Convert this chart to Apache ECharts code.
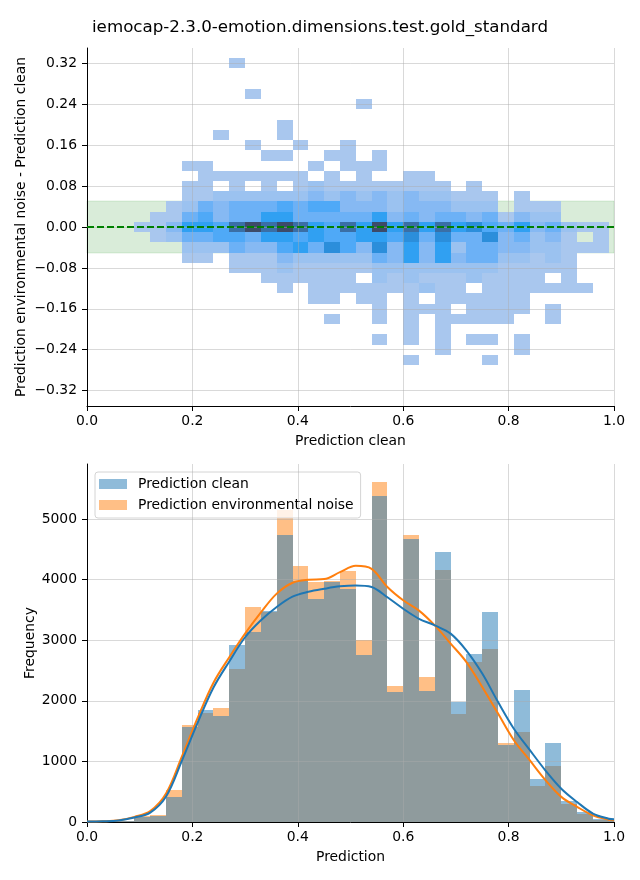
<!DOCTYPE html>
<html><head><meta charset="utf-8">
<script src="https://cdn.jsdelivr.net/npm/echarts@6/dist/echarts.min.js"></script>
<style>html,body{margin:0;padding:0;background:#fff}#chart{width:640px;height:880px}</style>
</head><body><div id="chart"></div>
<script>
// ---------------- data ----------------
const chartTitle = 'iemocap-2.3.0-emotion.dimensions.test.gold_standard';

// 2D histogram (top): x bins of 0.03 starting at bin index 3 (0.09), y rows centred on these values
const heatXBinWidth = 0.03;
const heatFirstXBin = 3;
const heatYBinHeight = 0.02;
const heatRowCenters = [0.32,0.30,0.28,0.26,0.24,0.22,0.20,0.18,0.16,0.14,0.12,0.10,0.08,0.06,0.04,0.02,0.00,
  -0.02,-0.04,-0.06,-0.08,-0.10,-0.12,-0.14,-0.16,-0.18,-0.20,-0.22,-0.24,-0.26];
// relative density level per cell (0 = empty), columns = x bins 3..32
const heatLevels = [
  [0,0,0,0,0,0,1,0,0,0, 0,0,0,0,0,0,0,0,0,0, 0,0,0,0,0,0,0,0,0,0],
  [0,0,0,0,0,0,0,0,0,0, 0,0,0,0,0,0,0,0,0,0, 0,0,0,0,0,0,0,0,0,0],
  [0,0,0,0,0,0,0,0,0,0, 0,0,0,0,0,0,0,0,0,0, 0,0,0,0,0,0,0,0,0,0],
  [0,0,0,0,0,0,0,1,0,0, 0,0,0,0,0,0,0,0,0,0, 0,0,0,0,0,0,0,0,0,0],
  [0,0,0,0,0,0,0,0,0,0, 0,0,0,0,1,0,0,0,0,0, 0,0,0,0,0,0,0,0,0,0],
  [0,0,0,0,0,0,0,0,0,0, 0,0,0,0,0,0,0,0,0,0, 0,0,0,0,0,0,0,0,0,0],
  [0,0,0,0,0,0,0,0,0,1, 0,0,0,0,0,0,0,0,0,0, 0,0,0,0,0,0,0,0,0,0],
  [0,0,0,0,0,1,0,0,0,1, 0,0,0,0,0,0,0,0,0,0, 0,0,0,0,0,0,0,0,0,0],
  [0,0,0,0,0,0,0,1,0,0, 1,0,0,1,0,0,0,0,0,0, 0,0,0,0,0,0,0,0,0,0],
  [0,0,0,0,0,0,0,0,1,1, 0,0,1,1,0,1,0,0,0,0, 0,0,0,0,0,0,0,0,0,0],
  [0,0,0,1,1,0,0,0,0,0, 0,1,0,1,1,1,0,0,0,0, 0,0,0,0,0,0,0,0,0,0],
  [0,0,0,0,1,1,1,1,1,1, 1,0,1,0,1,0,0,1,1,0, 0,0,0,0,0,0,0,0,0,0],
  [0,0,0,1,1,0,1,0,1,0, 1,2,1,1,1,1,1,1,1,1, 0,1,0,0,0,0,0,0,0,0],
  [0,0,0,1,1,2,2,2,2,2, 2,3,2,3,2,3,2,3,2,2, 1,1,1,0,1,0,0,0,0,0],
  [0,0,1,2,4,3,4,4,4,5, 4,5,5,3,3,3,2,3,3,3, 2,2,2,0,1,1,1,0,0,0],
  [0,1,1,4,5,3,4,4,6,6, 4,4,4,4,4,6,3,4,3,4, 4,3,4,1,3,2,2,0,0,0],
  [1,1,3,6,6,5,8,9,8,9, 8,6,5,8,6,9,6,8,6,8, 6,7,5,4,6,3,4,2,1,1],
  [0,1,2,4,4,5,5,4,6,6, 5,6,5,5,6,6,5,7,4,7, 4,4,7,3,4,2,3,1,0,1],
  [0,0,0,2,2,2,4,3,3,5, 6,4,7,5,3,7,3,6,3,6, 2,4,4,3,3,2,2,1,1,1],
  [0,0,0,1,1,0,1,1,1,3, 2,2,2,2,2,4,3,6,3,6, 3,4,4,2,2,1,2,1,0,0],
  [0,0,0,0,0,0,1,1,1,2, 1,1,1,1,1,2,2,2,2,2, 2,2,2,1,1,1,1,1,0,0],
  [0,0,0,0,0,0,0,0,1,1, 1,1,1,1,0,2,1,2,1,1, 1,2,1,1,1,1,0,1,0,0],
  [0,0,0,0,0,0,0,0,0,1, 0,1,1,1,1,1,1,1,2,1, 1,0,1,1,1,1,1,1,1,0],
  [0,0,0,0,0,0,0,0,0,0, 0,1,1,0,1,1,0,1,0,1, 1,1,1,1,1,0,0,0,0,0],
  [0,0,0,0,0,0,0,0,0,0, 0,0,0,0,0,1,0,1,1,1, 0,1,1,1,1,0,1,0,0,0],
  [0,0,0,0,0,0,0,0,0,0, 0,0,1,0,0,1,0,1,0,1, 1,1,1,1,0,0,1,0,0,0],
  [0,0,0,0,0,0,0,0,0,0, 0,0,0,0,0,0,0,1,0,1, 0,0,0,0,0,0,0,0,0,0],
  [0,0,0,0,0,0,0,0,0,0, 0,0,0,0,0,1,0,1,0,1, 0,1,1,0,1,0,0,0,0,0],
  [0,0,0,0,0,0,0,0,0,0, 0,0,0,0,0,0,0,0,0,1, 0,0,0,0,1,0,0,0,0,0],
  [0,0,0,0,0,0,0,0,0,0, 0,0,0,0,0,0,0,1,0,0, 0,0,1,0,0,0,0,0,0,0]
];
const toleranceBand = [-0.05, 0.05];
const referenceLineY = 0;
const topYTicks = [-0.32,-0.24,-0.16,-0.08,0,0.08,0.16,0.24,0.32];

// 1D histograms (bottom): bins of 0.03 from 0
const histBinWidth = 0.03;
const histClean = [10,15,20,85,105,405,1575,1845,1748,2915,3135,3490,4735,3980,3675,3955,3850,2750,5375,2145,4665,2158,4450,1980,2770,3460,1268,2177,706,1300,342,160,45,15];
const histNoise = [10,15,20,100,120,522,1605,1798,1878,2520,3545,3470,5150,4220,3960,3985,4140,3006,5620,2242,4730,2392,4155,1780,2640,2855,1300,1482,590,921,293,127,40,25];
const kdeX = [0,0.03,0.06,0.09,0.12,0.15,0.18,0.21,0.24,0.27,0.30,0.33,0.36,0.39,0.42,0.45,0.48,0.51,0.54,0.57,0.60,0.63,0.66,0.69,0.72,0.75,0.78,0.81,0.84,0.87,0.90,0.93,0.96,0.99,1.0];
const kdeClean = [8,12,25,75,155,420,1010,1640,2220,2650,3050,3330,3550,3720,3800,3850,3890,3905,3880,3710,3520,3355,3245,3110,2830,2450,1980,1540,1190,850,550,330,140,55,45];
const kdeNoise = [8,12,28,85,180,470,1080,1720,2300,2720,3110,3460,3770,3950,4000,4010,4125,4230,4180,3880,3660,3490,3245,2945,2640,2230,1790,1350,1020,690,415,250,110,38,30];
const bottomYTicks = [0,1000,2000,3000,4000,5000];
const seriesNames = ['Prediction clean', 'Prediction environmental noise'];

// ---------------- styling ----------------
const FONT = 'DejaVu Sans';
const heatPalette = ['#a9c7ee','#9bc2f0','#86b9f3','#6cb1f6','#4fa9f7','#30a0f2','#2b8edb','#3a6fa6','#3d4b69'];
const gridLine = 'rgba(170,170,170,0.45)';

function axisCommon(extra) {
  return Object.assign({
    type: 'value', z: 5,
    axisLine: {show: true, onZero: false, lineStyle: {color: '#000', width: 1}},
    axisTick: {show: true, length: 5, lineStyle: {color: '#000', width: 1}},
    axisLabel: {color: '#000', fontSize: 13.9, fontFamily: FONT, margin: 7},
    splitLine: {show: true, lineStyle: {color: gridLine, width: 1}},
    nameLocation: 'middle',
    nameMoveOverlap: false,
    nameTextStyle: {color: '#000', fontSize: 13.9, fontFamily: FONT}
  }, extra);
}

function rectFrom(api, x0, x1, y0, y1) {
  const p0 = api.coord([x0, y0]);
  const p1 = api.coord([x1, y1]);
  const l = Math.round(Math.min(p0[0], p1[0]));
  const r = Math.round(Math.max(p0[0], p1[0]));
  const t = Math.round(Math.min(p0[1], p1[1]));
  const b = Math.round(Math.max(p0[1], p1[1]));
  return {x: l, y: t, width: r - l, height: b - t};
}

// build data items
const heatData = [];
heatRowCenters.forEach((yc, r) => {
  heatLevels[r].forEach((lvl, c) => {
    if (lvl > 0) heatData.push([heatFirstXBin + c, yc, lvl]);
  });
});
const cleanData = histClean.map((v, k) => [k, v]);
const noiseData = histNoise.map((v, k) => [k, v]);
const kdeCleanData = kdeX.map((x, i) => [x, kdeClean[i]]);
const kdeNoiseData = kdeX.map((x, i) => [x, kdeNoise[i]]);

function barRender(color) {
  return function (params, api) {
    const k = api.value(0);
    const v = api.value(1);
    const shape = rectFrom(api, k * histBinWidth, (k + 1) * histBinWidth, 0, v);
    return {type: 'rect', shape: shape, style: {fill: color}};
  };
}

const chart = echarts.init(document.getElementById('chart'), null, {renderer: 'canvas'});
chart.setOption({
  backgroundColor: '#fff',
  animation: false,
  title: {
    text: chartTitle, left: 'center', top: 14,
    textStyle: {color: '#000', fontSize: 16.7, fontWeight: 'normal', fontFamily: FONT}
  },
  legend: {
    data: [
      {name: seriesNames[0], icon: 'rect', itemStyle: {color: '#8fbbd9'}},
      {name: seriesNames[1], icon: 'rect', itemStyle: {color: '#ffbf86'}}
    ],
    orient: 'vertical', left: 95, top: 472,
    itemWidth: 28, itemHeight: 10, itemGap: 5,
    padding: [4, 7, 5, 4],
    backgroundColor: 'rgba(255,255,255,0.8)', borderColor: '#d4d4d4', borderWidth: 1, borderRadius: 3,
    textStyle: {color: '#000', fontSize: 13.9, fontFamily: FONT, lineHeight: 16, padding: [0, 0, 0, 6]},
    selectedMode: false
  },
  grid: [
    {left: 87, top: 48, width: 527, height: 358, containLabel: false},
    {left: 87, top: 464, width: 527, height: 358, containLabel: false}
  ],
  xAxis: [
    axisCommon({gridIndex: 0, min: 0, max: 1, interval: 0.2, name: 'Prediction clean', nameGap: 28,
      axisLabel: {color: '#000', fontSize: 13.9, fontFamily: FONT, margin: 8, formatter: v => v.toFixed(1)}}),
    axisCommon({gridIndex: 1, min: 0, max: 1, interval: 0.2, name: 'Prediction', nameGap: 28,
      axisLabel: {color: '#000', fontSize: 13.9, fontFamily: FONT, margin: 8, formatter: v => v.toFixed(1)}})
  ],
  yAxis: [
    axisCommon({gridIndex: 0, min: -0.35, max: 0.35, name: 'Prediction environmental noise - Prediction clean', nameGap: 59,
      axisTick: {show: true, length: 5, customValues: topYTicks, lineStyle: {color: '#000'}},
      axisLabel: {color: '#000', fontSize: 13.9, fontFamily: FONT, margin: 10, customValues: topYTicks,
        formatter: v => (v < -1e-9 ? '\u2212' : '') + Math.abs(v).toFixed(2)}}),
    axisCommon({gridIndex: 1, min: 0, max: 5910, name: 'Frequency', nameGap: 50,
      axisTick: {show: true, length: 5, customValues: bottomYTicks, lineStyle: {color: '#000'}},
      axisLabel: {color: '#000', fontSize: 13.9, fontFamily: FONT, margin: 10, customValues: bottomYTicks,
        formatter: v => String(Math.round(v))}})
  ],
  series: [
    { // tolerance band
      type: 'custom', name: 'band', xAxisIndex: 0, yAxisIndex: 0, z: 1, silent: true,
      data: [toleranceBand],
      renderItem: function (params, api) {
        const cs = params.coordSys;
        const pLow = api.coord([0, api.value(0)]);
        const pHigh = api.coord([0, api.value(1)]);
        return {type: 'rect',
          shape: {x: cs.x, y: Math.round(pHigh[1]), width: cs.width, height: Math.round(pLow[1]) - Math.round(pHigh[1])},
          style: {fill: 'rgba(0,128,0,0.15)', stroke: 'rgba(0,128,0,0.12)', lineWidth: 1}};
      }
    },
    { // 2D histogram cells
      type: 'custom', name: 'heat', xAxisIndex: 0, yAxisIndex: 0, z: 2, silent: true,
      data: heatData,
      renderItem: function (params, api) {
        const k = api.value(0), yc = api.value(1), lvl = api.value(2);
        const shape = rectFrom(api, k * heatXBinWidth, (k + 1) * heatXBinWidth, yc - heatYBinHeight / 2, yc + heatYBinHeight / 2);
        const col = heatPalette[lvl - 1];
        return {type: 'rect', shape: shape, style: {fill: col}};
      },
      markLine: {
        silent: true, symbol: 'none', z: 8,
        label: {show: false},
        lineStyle: {color: '#008000', width: 2, type: [7, 3]},
        data: [{yAxis: referenceLineY}]
      }
    },
    { // noise histogram (drawn first)
      type: 'custom', name: seriesNames[1], xAxisIndex: 1, yAxisIndex: 1, z: 2, clip: true, silent: true,
      itemStyle: {color: 'rgba(255,127,14,0.5)'},
      data: noiseData, renderItem: barRender('rgba(255,127,14,0.5)')
    },
    { // clean histogram (on top)
      type: 'custom', name: seriesNames[0], xAxisIndex: 1, yAxisIndex: 1, z: 3, clip: true, silent: true,
      itemStyle: {color: 'rgba(31,119,180,0.5)'},
      data: cleanData, renderItem: barRender('rgba(31,119,180,0.5)')
    },
    {
      type: 'line', name: 'kde noise', xAxisIndex: 1, yAxisIndex: 1, z: 7, silent: true,
      data: kdeNoiseData, smooth: 0.35, showSymbol: false, symbol: 'none',
      lineStyle: {color: '#ff7f0e', width: 2}, itemStyle: {color: '#ff7f0e'}
    },
    {
      type: 'line', name: 'kde clean', xAxisIndex: 1, yAxisIndex: 1, z: 7, silent: true,
      data: kdeCleanData, smooth: 0.35, showSymbol: false, symbol: 'none',
      lineStyle: {color: '#1f77b4', width: 2}, itemStyle: {color: '#1f77b4'}
    }
  ]
});
</script>
</body></html>
